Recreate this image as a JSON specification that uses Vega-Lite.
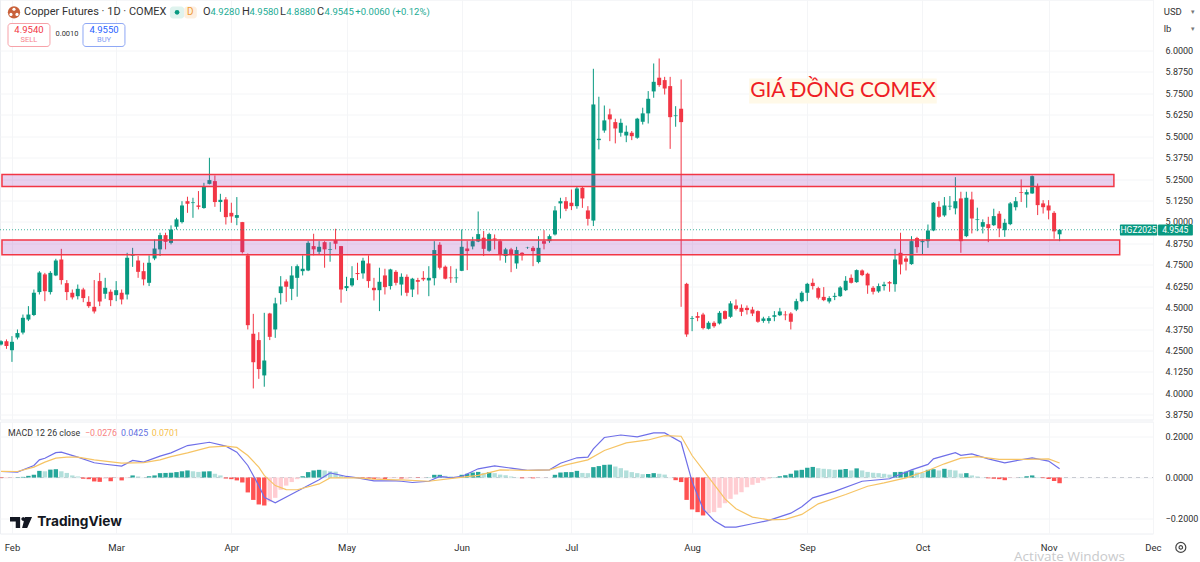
{
"$schema":"https://vega.github.io/schema/vega-lite/v6.json",
"padding":{"left":-2,"top":-1.5,"right":0,"bottom":0},
"background":"#ffffff",
"spacing":0,
"config":{"font":"Roboto","view":{"stroke":"#eceef2"},"concat":{"spacing":0},"axis":{"title":null,"domain":false,"ticks":false,"gridColor":"#f4f5f7","labelColor":"#2e2e2e","labelFontSize":10}},
"datasets":{
"bars":[
{"i":0,"o":4.286,"h":4.31,"l":4.28,"c":4.305,"hist":-0.003},
{"i":1,"o":4.305,"h":4.315,"l":4.26,"c":4.276,"hist":-0.003},
{"i":2,"o":4.252,"h":4.334,"l":4.184,"c":4.301,"hist":-0.002},
{"i":3,"o":4.326,"h":4.373,"l":4.315,"c":4.352,"hist":0.001},
{"i":4,"o":4.355,"h":4.46,"l":4.344,"c":4.441,"hist":0.003},
{"i":5,"o":4.431,"h":4.509,"l":4.422,"c":4.46,"hist":0.008},
{"i":6,"o":4.457,"h":4.606,"l":4.451,"c":4.587,"hist":0.013},
{"i":7,"o":4.591,"h":4.713,"l":4.577,"c":4.705,"hist":0.032},
{"i":8,"o":4.694,"h":4.703,"l":4.538,"c":4.596,"hist":0.03},
{"i":9,"o":4.591,"h":4.713,"l":4.577,"c":4.703,"hist":0.038},
{"i":10,"o":4.688,"h":4.785,"l":4.684,"c":4.775,"hist":0.04},
{"i":11,"o":4.781,"h":4.843,"l":4.635,"c":4.661,"hist":0.03},
{"i":12,"o":4.643,"h":4.661,"l":4.544,"c":4.591,"hist":0.022},
{"i":13,"o":4.587,"h":4.606,"l":4.548,"c":4.56,"hist":0.01},
{"i":14,"o":4.567,"h":4.635,"l":4.548,"c":4.61,"hist":0.005},
{"i":15,"o":4.606,"h":4.616,"l":4.532,"c":4.556,"hist":-0.006},
{"i":16,"o":4.534,"h":4.567,"l":4.499,"c":4.509,"hist":-0.008},
{"i":17,"o":4.505,"h":4.661,"l":4.466,"c":4.478,"hist":-0.019},
{"i":18,"o":4.655,"h":4.703,"l":4.509,"c":4.536,"hist":-0.021},
{"i":19,"o":4.581,"h":4.674,"l":4.552,"c":4.616,"hist":-0.005},
{"i":20,"o":4.593,"h":4.606,"l":4.509,"c":4.544,"hist":-0.018},
{"i":21,"o":4.573,"h":4.655,"l":4.538,"c":4.602,"hist":-0.002},
{"i":22,"o":4.587,"h":4.606,"l":4.519,"c":4.548,"hist":-0.014},
{"i":23,"o":4.577,"h":4.82,"l":4.548,"c":4.791,"hist":-0.002},
{"i":24,"o":4.803,"h":4.849,"l":4.738,"c":4.807,"hist":0.01},
{"i":25,"o":4.775,"h":4.801,"l":4.674,"c":4.709,"hist":0.005},
{"i":26,"o":4.713,"h":4.762,"l":4.63,"c":4.665,"hist":0.001},
{"i":27,"o":4.645,"h":4.805,"l":4.626,"c":4.762,"hist":0.006},
{"i":28,"o":4.787,"h":4.898,"l":4.777,"c":4.845,"hist":0.01},
{"i":29,"o":4.84,"h":4.937,"l":4.801,"c":4.923,"hist":0.021},
{"i":30,"o":4.923,"h":4.937,"l":4.84,"c":4.884,"hist":0.022},
{"i":31,"o":4.878,"h":4.98,"l":4.869,"c":4.956,"hist":0.023},
{"i":32,"o":4.972,"h":5.024,"l":4.956,"c":5.015,"hist":0.026},
{"i":33,"o":4.999,"h":5.121,"l":4.991,"c":5.096,"hist":0.03},
{"i":34,"o":5.121,"h":5.147,"l":5.053,"c":5.106,"hist":0.034},
{"i":35,"o":5.11,"h":5.141,"l":5.024,"c":5.114,"hist":0.03},
{"i":36,"o":5.096,"h":5.18,"l":5.073,"c":5.088,"hist":0.027},
{"i":37,"o":5.081,"h":5.228,"l":5.077,"c":5.209,"hist":0.029},
{"i":38,"o":5.222,"h":5.374,"l":5.219,"c":5.244,"hist":0.03},
{"i":39,"o":5.238,"h":5.271,"l":5.088,"c":5.116,"hist":0.018},
{"i":40,"o":5.116,"h":5.164,"l":5.059,"c":5.129,"hist":0.01},
{"i":41,"o":5.131,"h":5.145,"l":4.985,"c":5.028,"hist":-0.005},
{"i":42,"o":5.053,"h":5.112,"l":4.995,"c":5.032,"hist":-0.008},
{"i":43,"o":5.024,"h":5.145,"l":4.981,"c":5.04,"hist":-0.014},
{"i":44,"o":4.999,"h":5,"l":4.816,"c":4.824,"hist":-0.024},
{"i":45,"o":4.805,"h":4.816,"l":4.373,"c":4.398,"hist":-0.072},
{"i":46,"o":4.348,"h":4.464,"l":4.029,"c":4.182,"hist":-0.108},
{"i":47,"o":4.311,"h":4.357,"l":4.085,"c":4.142,"hist":-0.13},
{"i":48,"o":4.105,"h":4.47,"l":4.039,"c":4.192,"hist":-0.135},
{"i":49,"o":4.466,"h":4.47,"l":4.311,"c":4.33,"hist":-0.116},
{"i":50,"o":4.373,"h":4.558,"l":4.324,"c":4.525,"hist":-0.098},
{"i":51,"o":4.585,"h":4.684,"l":4.519,"c":4.624,"hist":-0.059},
{"i":52,"o":4.653,"h":4.665,"l":4.534,"c":4.622,"hist":-0.039},
{"i":53,"o":4.61,"h":4.742,"l":4.544,"c":4.688,"hist":-0.022},
{"i":54,"o":4.674,"h":4.752,"l":4.564,"c":4.742,"hist":-0.008},
{"i":55,"o":4.713,"h":4.805,"l":4.688,"c":4.727,"hist":0.006},
{"i":56,"o":4.717,"h":4.888,"l":4.713,"c":4.878,"hist":0.026},
{"i":57,"o":4.859,"h":4.931,"l":4.805,"c":4.84,"hist":0.034},
{"i":58,"o":4.826,"h":4.888,"l":4.81,"c":4.855,"hist":0.037},
{"i":59,"o":4.882,"h":4.888,"l":4.733,"c":4.84,"hist":0.034},
{"i":60,"o":4.838,"h":4.882,"l":4.768,"c":4.842,"hist":0.03},
{"i":61,"o":4.894,"h":4.96,"l":4.84,"c":4.873,"hist":0.028},
{"i":62,"o":4.859,"h":4.86,"l":4.529,"c":4.606,"hist":0.01},
{"i":63,"o":4.614,"h":4.68,"l":4.597,"c":4.626,"hist":0.005},
{"i":64,"o":4.63,"h":4.742,"l":4.622,"c":4.672,"hist":0.001},
{"i":65,"o":4.702,"h":4.762,"l":4.661,"c":4.696,"hist":-0.002},
{"i":66,"o":4.7,"h":4.791,"l":4.669,"c":4.774,"hist":-0.003},
{"i":67,"o":4.758,"h":4.805,"l":4.616,"c":4.655,"hist":-0.006},
{"i":68,"o":4.616,"h":4.674,"l":4.542,"c":4.602,"hist":-0.008},
{"i":69,"o":4.602,"h":4.733,"l":4.48,"c":4.651,"hist":-0.007},
{"i":70,"o":4.688,"h":4.727,"l":4.577,"c":4.62,"hist":-0.009},
{"i":71,"o":4.626,"h":4.727,"l":4.606,"c":4.723,"hist":-0.003},
{"i":72,"o":4.709,"h":4.719,"l":4.63,"c":4.645,"hist":-0.002},
{"i":73,"o":4.635,"h":4.7,"l":4.571,"c":4.68,"hist":-0.005},
{"i":74,"o":4.68,"h":4.694,"l":4.567,"c":4.587,"hist":-0.005},
{"i":75,"o":4.606,"h":4.674,"l":4.562,"c":4.669,"hist":-0.001},
{"i":76,"o":4.661,"h":4.674,"l":4.577,"c":4.651,"hist":-0.002},
{"i":77,"o":4.674,"h":4.713,"l":4.655,"c":4.665,"hist":-0.001},
{"i":78,"o":4.659,"h":4.742,"l":4.567,"c":4.674,"hist":0.001},
{"i":79,"o":4.672,"h":4.888,"l":4.63,"c":4.836,"hist":0.013},
{"i":80,"o":4.867,"h":4.882,"l":4.723,"c":4.733,"hist":0.013},
{"i":81,"o":4.739,"h":4.746,"l":4.665,"c":4.669,"hist":0.008},
{"i":82,"o":4.676,"h":4.742,"l":4.645,"c":4.672,"hist":0.005},
{"i":83,"o":4.672,"h":4.727,"l":4.645,"c":4.676,"hist":0.002},
{"i":84,"o":4.715,"h":4.956,"l":4.713,"c":4.855,"hist":0.013},
{"i":85,"o":4.845,"h":4.888,"l":4.719,"c":4.83,"hist":0.018},
{"i":86,"o":4.857,"h":4.913,"l":4.84,"c":4.888,"hist":0.024},
{"i":87,"o":4.886,"h":5.061,"l":4.882,"c":4.929,"hist":0.027},
{"i":88,"o":4.908,"h":4.947,"l":4.801,"c":4.843,"hist":0.022},
{"i":89,"o":4.832,"h":4.937,"l":4.826,"c":4.929,"hist":0.026},
{"i":90,"o":4.904,"h":4.927,"l":4.84,"c":4.898,"hist":0.021},
{"i":91,"o":4.888,"h":4.898,"l":4.775,"c":4.81,"hist":0.014},
{"i":92,"o":4.801,"h":4.849,"l":4.762,"c":4.84,"hist":0.011},
{"i":93,"o":4.84,"h":4.849,"l":4.707,"c":4.807,"hist":0.005},
{"i":94,"o":4.758,"h":4.855,"l":4.727,"c":4.836,"hist":0.001},
{"i":95,"o":4.82,"h":4.824,"l":4.775,"c":4.805,"hist":-0.004},
{"i":96,"o":4.849,"h":4.855,"l":4.843,"c":4.851,"hist":-0.002},
{"i":97,"o":4.849,"h":4.859,"l":4.742,"c":4.83,"hist":-0.004},
{"i":98,"o":4.766,"h":4.917,"l":4.758,"c":4.849,"hist":-0.001},
{"i":99,"o":4.888,"h":4.952,"l":4.84,"c":4.873,"hist":-0.001},
{"i":100,"o":4.888,"h":4.927,"l":4.878,"c":4.917,"hist":0},
{"i":101,"o":4.927,"h":5.092,"l":4.921,"c":5.067,"hist":0.013},
{"i":102,"o":5.108,"h":5.141,"l":5.02,"c":5.121,"hist":0.024},
{"i":103,"o":5.121,"h":5.145,"l":5.063,"c":5.077,"hist":0.026},
{"i":104,"o":5.112,"h":5.189,"l":5.069,"c":5.092,"hist":0.026},
{"i":105,"o":5.092,"h":5.209,"l":5.077,"c":5.195,"hist":0.032},
{"i":106,"o":5.199,"h":5.209,"l":5.082,"c":5.137,"hist":0.022},
{"i":107,"o":5.067,"h":5.092,"l":4.979,"c":5.018,"hist":0.021},
{"i":108,"o":5.008,"h":5.893,"l":4.976,"c":5.685,"hist":0.05},
{"i":109,"o":5.477,"h":5.73,"l":5.423,"c":5.485,"hist":0.055},
{"i":110,"o":5.533,"h":5.679,"l":5.52,"c":5.592,"hist":0.061},
{"i":111,"o":5.627,"h":5.66,"l":5.471,"c":5.598,"hist":0.062},
{"i":112,"o":5.582,"h":5.602,"l":5.458,"c":5.545,"hist":0.053},
{"i":113,"o":5.52,"h":5.602,"l":5.497,"c":5.578,"hist":0.045},
{"i":114,"o":5.504,"h":5.562,"l":5.465,"c":5.526,"hist":0.034},
{"i":115,"o":5.52,"h":5.53,"l":5.477,"c":5.5,"hist":0.026},
{"i":116,"o":5.491,"h":5.607,"l":5.485,"c":5.602,"hist":0.021},
{"i":117,"o":5.584,"h":5.666,"l":5.568,"c":5.633,"hist":0.016},
{"i":118,"o":5.633,"h":5.763,"l":5.574,"c":5.718,"hist":0.017},
{"i":119,"o":5.761,"h":5.924,"l":5.724,"c":5.817,"hist":0.021},
{"i":120,"o":5.841,"h":5.953,"l":5.788,"c":5.798,"hist":0.018},
{"i":121,"o":5.827,"h":5.846,"l":5.743,"c":5.778,"hist":0.014},
{"i":122,"o":5.792,"h":5.846,"l":5.426,"c":5.611,"hist":0.001},
{"i":123,"o":5.617,"h":5.675,"l":5.555,"c":5.621,"hist":-0.013},
{"i":124,"o":5.66,"h":5.831,"l":4.505,"c":5.582,"hist":-0.022},
{"i":125,"o":4.639,"h":4.645,"l":4.33,"c":4.344,"hist":-0.108},
{"i":126,"o":4.435,"h":4.451,"l":4.363,"c":4.439,"hist":-0.154},
{"i":127,"o":4.451,"h":4.474,"l":4.421,"c":4.441,"hist":-0.167},
{"i":128,"o":4.46,"h":4.47,"l":4.373,"c":4.381,"hist":-0.183},
{"i":129,"o":4.377,"h":4.421,"l":4.373,"c":4.412,"hist":-0.172},
{"i":130,"o":4.412,"h":4.421,"l":4.383,"c":4.392,"hist":-0.167},
{"i":131,"o":4.408,"h":4.48,"l":4.402,"c":4.47,"hist":-0.146},
{"i":132,"o":4.48,"h":4.484,"l":4.431,"c":4.435,"hist":-0.124},
{"i":133,"o":4.447,"h":4.538,"l":4.441,"c":4.525,"hist":-0.103},
{"i":134,"o":4.513,"h":4.548,"l":4.484,"c":4.493,"hist":-0.082},
{"i":135,"o":4.499,"h":4.519,"l":4.451,"c":4.476,"hist":-0.071},
{"i":136,"o":4.499,"h":4.513,"l":4.46,"c":4.486,"hist":-0.047},
{"i":137,"o":4.489,"h":4.505,"l":4.451,"c":4.466,"hist":-0.035},
{"i":138,"o":4.48,"h":4.484,"l":4.412,"c":4.418,"hist":-0.026},
{"i":139,"o":4.423,"h":4.447,"l":4.412,"c":4.437,"hist":-0.014},
{"i":140,"o":4.423,"h":4.451,"l":4.408,"c":4.439,"hist":-0.005},
{"i":141,"o":4.447,"h":4.48,"l":4.421,"c":4.456,"hist":0.001},
{"i":142,"o":4.456,"h":4.499,"l":4.451,"c":4.478,"hist":0.006},
{"i":143,"o":4.46,"h":4.48,"l":4.427,"c":4.456,"hist":0.011},
{"i":144,"o":4.466,"h":4.474,"l":4.373,"c":4.418,"hist":0.018},
{"i":145,"o":4.489,"h":4.552,"l":4.48,"c":4.538,"hist":0.034},
{"i":146,"o":4.538,"h":4.596,"l":4.532,"c":4.587,"hist":0.037},
{"i":147,"o":4.587,"h":4.645,"l":4.538,"c":4.639,"hist":0.047},
{"i":148,"o":4.645,"h":4.67,"l":4.606,"c":4.626,"hist":0.051},
{"i":149,"o":4.614,"h":4.622,"l":4.548,"c":4.558,"hist":0.045},
{"i":150,"o":4.563,"h":4.62,"l":4.538,"c":4.544,"hist":0.042},
{"i":151,"o":4.536,"h":4.567,"l":4.525,"c":4.556,"hist":0.04},
{"i":152,"o":4.563,"h":4.587,"l":4.544,"c":4.569,"hist":0.037},
{"i":153,"o":4.567,"h":4.626,"l":4.563,"c":4.618,"hist":0.038},
{"i":154,"o":4.602,"h":4.684,"l":4.597,"c":4.657,"hist":0.041},
{"i":155,"o":4.674,"h":4.694,"l":4.641,"c":4.645,"hist":0.034},
{"i":156,"o":4.649,"h":4.723,"l":4.645,"c":4.719,"hist":0.044},
{"i":157,"o":4.717,"h":4.723,"l":4.684,"c":4.69,"hist":0.034},
{"i":158,"o":4.698,"h":4.704,"l":4.581,"c":4.63,"hist":0.027},
{"i":159,"o":4.616,"h":4.626,"l":4.577,"c":4.593,"hist":0.023},
{"i":160,"o":4.595,"h":4.641,"l":4.587,"c":4.626,"hist":0.021},
{"i":161,"o":4.626,"h":4.651,"l":4.6,"c":4.635,"hist":0.018},
{"i":162,"o":4.649,"h":4.655,"l":4.593,"c":4.641,"hist":0.014},
{"i":163,"o":4.637,"h":4.843,"l":4.593,"c":4.781,"hist":0.026},
{"i":164,"o":4.82,"h":4.937,"l":4.694,"c":4.752,"hist":0.027},
{"i":165,"o":4.787,"h":4.801,"l":4.717,"c":4.768,"hist":0.028},
{"i":166,"o":4.754,"h":4.917,"l":4.75,"c":4.888,"hist":0.034},
{"i":167,"o":4.906,"h":4.913,"l":4.82,"c":4.853,"hist":0.024},
{"i":168,"o":4.882,"h":4.898,"l":4.81,"c":4.888,"hist":0.022},
{"i":169,"o":4.888,"h":4.985,"l":4.849,"c":4.95,"hist":0.037},
{"i":170,"o":4.95,"h":5.116,"l":4.946,"c":5.112,"hist":0.04},
{"i":171,"o":5.088,"h":5.121,"l":5.024,"c":5.03,"hist":0.034},
{"i":172,"o":5.038,"h":5.145,"l":5.03,"c":5.096,"hist":0.042},
{"i":173,"o":5.09,"h":5.151,"l":5.069,"c":5.094,"hist":0.037},
{"i":174,"o":5.079,"h":5.261,"l":5.044,"c":5.121,"hist":0.034},
{"i":175,"o":5.137,"h":5.176,"l":4.82,"c":4.888,"hist":0.019},
{"i":176,"o":4.917,"h":5.176,"l":4.911,"c":5.141,"hist":0.021},
{"i":177,"o":5.131,"h":5.176,"l":4.933,"c":5.02,"hist":0.01},
{"i":178,"o":5.011,"h":5.083,"l":4.946,"c":5.015,"hist":0.005},
{"i":179,"o":4.972,"h":5.015,"l":4.933,"c":4.999,"hist":0.001},
{"i":180,"o":4.987,"h":5.03,"l":4.882,"c":4.964,"hist":-0.004},
{"i":181,"o":4.981,"h":5.077,"l":4.976,"c":5.034,"hist":-0.006},
{"i":182,"o":5.048,"h":5.063,"l":4.911,"c":4.962,"hist":-0.008},
{"i":183,"o":4.952,"h":5.018,"l":4.913,"c":4.995,"hist":-0.013},
{"i":184,"o":4.987,"h":5.116,"l":4.981,"c":5.108,"hist":-0.002},
{"i":185,"o":5.086,"h":5.145,"l":5.067,"c":5.121,"hist":-0.001},
{"i":186,"o":5.174,"h":5.248,"l":5.116,"c":5.17,"hist":0.001},
{"i":187,"o":5.16,"h":5.189,"l":5.083,"c":5.174,"hist":0.006},
{"i":188,"o":5.166,"h":5.271,"l":5.164,"c":5.267,"hist":0.01},
{"i":189,"o":5.209,"h":5.224,"l":5.04,"c":5.098,"hist":0.002},
{"i":190,"o":5.108,"h":5.127,"l":5.049,"c":5.086,"hist":-0.003},
{"i":191,"o":5.096,"h":5.127,"l":5.015,"c":5.067,"hist":-0.007},
{"i":192,"o":5.053,"h":5.063,"l":4.902,"c":4.945,"hist":-0.017},
{"i":193,"o":4.928,"h":4.958,"l":4.888,"c":4.9545,"hist":-0.0276}
],
"macd":[{"i":0,"v":0.029},{"i":3,"v":0.026},{"i":6,"v":0.058},{"i":7,"v":0.085},{"i":8,"v":0.093},{"i":10,"v":0.12},{"i":11,"v":0.122},{"i":14,"v":0.098},{"i":17,"v":0.071},{"i":19,"v":0.064},{"i":22,"v":0.055},{"i":24,"v":0.082},{"i":26,"v":0.074},{"i":29,"v":0.103},{"i":31,"v":0.119},{"i":34,"v":0.154},{"i":38,"v":0.17},{"i":41,"v":0.151},{"i":43,"v":0.122},{"i":45,"v":0.058},{"i":47,"v":-0.039},{"i":48,"v":-0.095},{"i":50,"v":-0.122},{"i":54,"v":-0.066},{"i":58,"v":-0.011},{"i":60,"v":0.022},{"i":63,"v":0.005},{"i":65,"v":-0.002},{"i":68,"v":-0.016},{"i":72,"v":-0.016},{"i":73,"v":-0.018},{"i":75,"v":-0.024},{"i":78,"v":-0.018},{"i":80,"v":0.005},{"i":82,"v":-0.002},{"i":84,"v":0.005},{"i":87,"v":0.042},{"i":90,"v":0.056},{"i":93,"v":0.045},{"i":96,"v":0.034},{"i":100,"v":0.037},{"i":102,"v":0.069},{"i":105,"v":0.095},{"i":107,"v":0.098},{"i":108,"v":0.138},{"i":110,"v":0.193},{"i":113,"v":0.205},{"i":116,"v":0.196},{"i":119,"v":0.215},{"i":121,"v":0.215},{"i":124,"v":0.17},{"i":126,"v":-0.02},{"i":128,"v":-0.151},{"i":130,"v":-0.207},{"i":132,"v":-0.239},{"i":134,"v":-0.239},{"i":137,"v":-0.223},{"i":140,"v":-0.207},{"i":144,"v":-0.172},{"i":146,"v":-0.141},{"i":148,"v":-0.098},{"i":152,"v":-0.067},{"i":157,"v":-0.018},{"i":162,"v":-0.006},{"i":166,"v":0.037},{"i":169,"v":0.063},{"i":170,"v":0.09},{"i":174,"v":0.12},{"i":175,"v":0.107},{"i":177,"v":0.114},{"i":180,"v":0.09},{"i":183,"v":0.071},{"i":188,"v":0.095},{"i":191,"v":0.079},{"i":193,"v":0.0425}],
"signal":[{"i":0,"v":0.03},{"i":3,"v":0.029},{"i":6,"v":0.05},{"i":8,"v":0.074},{"i":10,"v":0.093},{"i":12,"v":0.098},{"i":14,"v":0.098},{"i":17,"v":0.085},{"i":22,"v":0.069},{"i":26,"v":0.072},{"i":29,"v":0.085},{"i":31,"v":0.101},{"i":34,"v":0.119},{"i":38,"v":0.146},{"i":41,"v":0.151},{"i":43,"v":0.145},{"i":45,"v":0.106},{"i":47,"v":0.05},{"i":48,"v":0.01},{"i":50,"v":-0.039},{"i":52,"v":-0.058},{"i":54,"v":-0.059},{"i":58,"v":-0.031},{"i":60,"v":-0.002},{"i":63,"v":-0.002},{"i":65,"v":-0.002},{"i":68,"v":-0.008},{"i":72,"v":-0.011},{"i":73,"v":-0.011},{"i":78,"v":-0.018},{"i":83,"v":-0.002},{"i":87,"v":0.01},{"i":91,"v":0.037},{"i":96,"v":0.034},{"i":100,"v":0.037},{"i":103,"v":0.061},{"i":107,"v":0.085},{"i":110,"v":0.13},{"i":114,"v":0.167},{"i":118,"v":0.181},{"i":121,"v":0.202},{"i":124,"v":0.199},{"i":126,"v":0.106},{"i":129,"v":0.002},{"i":132,"v":-0.103},{"i":134,"v":-0.151},{"i":137,"v":-0.191},{"i":140,"v":-0.204},{"i":143,"v":-0.202},{"i":146,"v":-0.178},{"i":149,"v":-0.127},{"i":154,"v":-0.082},{"i":158,"v":-0.042},{"i":161,"v":-0.026},{"i":165,"v":-0.002},{"i":169,"v":0.034},{"i":172,"v":0.066},{"i":175,"v":0.093},{"i":178,"v":0.101},{"i":182,"v":0.087},{"i":187,"v":0.087},{"i":191,"v":0.09},{"i":193,"v":0.0701}]
},
"vconcat":[
{
"width":1153,"height":420,
"encoding":{
"x":{"field":"i","type":"quantitative","scale":{"domain":[-0.18,210.03],"nice":false,"zero":false,"padding":0},"axis":{"values":[2,21,42,63,84,104,126,147,168,191,210],"labels":false,"grid":true}},
"y":{"field":"p","type":"quantitative","scale":{"domain":[3.848,6.297],"nice":false,"zero":false},"axis":{"orient":"right","values":[3.875,4,4.125,4.25,4.375,4.5,4.625,4.75,4.875,5,5.125,5.25,5.375,5.5,5.625,5.75,5.875,6],"format":".4f","labelPadding":12,"labelFontSize":9,"grid":true}}
},
"layer":[
{"data":{"name":"bars"},"mark":{"type":"rule","strokeWidth":1},"encoding":{"y":{"field":"l","type":"quantitative"},"y2":{"field":"h"},"color":{"condition":{"test":"datum.c>=datum.o","value":"#089981"},"value":"#f23645"}}},
{"data":{"name":"bars"},"mark":{"type":"bar","size":4,"orient":"vertical"},"encoding":{"y":{"field":"o","type":"quantitative"},"y2":{"field":"c"},"color":{"condition":{"test":"datum.c>=datum.o","value":"#089981"},"value":"#f23645"}}},
{"data":{"values":[{"i":0.18,"i2":202.9,"p":5.277,"p2":5.207},{"i":0.18,"i2":203.96,"p":4.894,"p2":4.809}]},"mark":{"type":"rect","fill":"#9c27b0","fillOpacity":0.22,"stroke":"#f23645","strokeWidth":1.5,"strokeOpacity":1},"encoding":{"x2":{"field":"i2"},"y2":{"field":"p2"}}},
{"data":{"values":[{"i":-0.18,"i2":210.03,"p":4.9545}]},"mark":{"type":"rule","stroke":"#089981","strokeDash":[1,2],"strokeWidth":1,"opacity":0.75},"encoding":{"x2":{"field":"i2"}}},
{"data":{"values":[{"i":204,"i2":210.8,"p":4.9854,"p2":4.9213},{"i":210.95,"i2":217.3,"p":4.9854,"p2":4.9213}]},"mark":{"type":"rect","fill":"#089981","cornerRadius":1},"encoding":{"x2":{"field":"i2"},"y2":{"field":"p2"}}},
{"data":{"values":[{"i":207.4,"p":4.953,"t":"HGZ2025"},{"i":214.1,"p":4.953,"t":"4.9545"}]},"mark":{"type":"text","fill":"#ffffff","fontSize":8.5,"align":"center","baseline":"middle"},"encoding":{"text":{"field":"t"}}},
{"data":{"values":[{"i":136.4,"i2":170.6,"p":5.837,"p2":5.691}]},"mark":{"type":"rect","fill":"#fff9e8"},"encoding":{"x2":{"field":"i2"},"y2":{"field":"p2"}}},
{"data":{"values":[{"i":153.5,"p":5.764,"t":"GIÁ ĐỒNG COMEX"}]},"mark":{"type":"text","fill":"#ee1c25","fontSize":21,"font":"Lato","align":"center","baseline":"middle"},"encoding":{"text":{"field":"t"}}},
{"data":{"values":[{"i":2.37,"p":6.222}]},"mark":{"type":"point","shape":"circle","filled":true,"fill":"#c9613a","size":150,"opacity":1}},
{"data":{"values":[{"i":2.37,"p":6.24},{"i":1.82,"p":6.21},{"i":2.92,"p":6.21}]},"mark":{"type":"point","shape":"circle","filled":true,"fill":"#ffffff","size":10,"opacity":1}},
{"data":{"values":[{"i":4.19,"p":6.222,"t":"Copper Futures · 1D · COMEX"},{"i":36.83,"p":6.222,"t":"O"},{"i":43.94,"p":6.222,"t":"H"},{"i":50.87,"p":6.222,"t":"L"},{"i":57.6,"p":6.222,"t":"C"}]},"mark":{"type":"text","fill":"#333333","fontSize":11,"align":"left","baseline":"middle"},"encoding":{"text":{"field":"t"}}},
{"data":{"values":[{"i":38.2,"p":6.222,"t":"4.9280"},{"i":45.3,"p":6.222,"t":"4.9580"},{"i":52,"p":6.222,"t":"4.8880"},{"i":59,"p":6.222,"t":"4.9545"},{"i":64.6,"p":6.222,"t":"+0.0060 (+0.12%)"}]},"mark":{"type":"text","fill":"#22ab94","fontSize":9.5,"align":"left","baseline":"middle"},"encoding":{"text":{"field":"t"}}},
{"data":{"values":[{"i":30.8,"i2":33.4,"p":6.2566,"p2":6.1866}]},"mark":{"type":"rect","fill":"#dff3ee","cornerRadius":3},"encoding":{"x2":{"field":"i2"},"y2":{"field":"p2"}}},
{"data":{"values":[{"i":33.4,"i2":35.7,"p":6.2566,"p2":6.1866}]},"mark":{"type":"rect","fill":"#fdefdf","cornerRadius":3},"encoding":{"x2":{"field":"i2"},"y2":{"field":"p2"}}},
{"data":{"values":[{"i":32.1,"p":6.222}]},"mark":{"type":"point","shape":"circle","filled":true,"fill":"#089981","size":22,"opacity":1}},
{"data":{"values":[{"i":34.5,"p":6.222,"t":"D"}]},"mark":{"type":"text","fill":"#f09a37","fontSize":10,"align":"center","baseline":"middle"},"encoding":{"text":{"field":"t"}}},
{"data":{"values":[{"i":1.28,"i2":8.93,"p":6.157,"p2":6.023}]},"mark":{"type":"rect","fill":"#ffffff","stroke":"#f7a1a8","strokeWidth":1,"cornerRadius":3},"encoding":{"x2":{"field":"i2"},"y2":{"field":"p2"}}},
{"data":{"values":[{"i":14.95,"i2":22.6,"p":6.157,"p2":6.023}]},"mark":{"type":"rect","fill":"#ffffff","stroke":"#8ea7f5","strokeWidth":1,"cornerRadius":3},"encoding":{"x2":{"field":"i2"},"y2":{"field":"p2"}}},
{"data":{"values":[{"i":5.1,"p":6.122,"t":"4.9540"}]},"mark":{"type":"text","fill":"#f23645","fontSize":9.5,"align":"center","baseline":"middle"},"encoding":{"text":{"field":"t"}}},
{"data":{"values":[{"i":5.1,"p":6.061,"t":"SELL"}]},"mark":{"type":"text","fill":"#f7848d","fontSize":7.5,"align":"center","baseline":"middle"},"encoding":{"text":{"field":"t"}}},
{"data":{"values":[{"i":18.78,"p":6.122,"t":"4.9550"}]},"mark":{"type":"text","fill":"#2962ff","fontSize":9.5,"align":"center","baseline":"middle"},"encoding":{"text":{"field":"t"}}},
{"data":{"values":[{"i":18.78,"p":6.061,"t":"BUY"}]},"mark":{"type":"text","fill":"#7f9cf5","fontSize":7.5,"align":"center","baseline":"middle"},"encoding":{"text":{"field":"t"}}},
{"data":{"values":[{"i":12.03,"p":6.093,"t":"0.0010"}]},"mark":{"type":"text","fill":"#333333","fontSize":7.5,"align":"center","baseline":"middle"},"encoding":{"text":{"field":"t"}}},
{"data":{"values":[{"i":212,"p":6.222,"t":"USD"},{"i":212,"p":6.1224,"t":"lb"}]},"mark":{"type":"text","fill":"#333333","fontSize":9.5,"align":"left","baseline":"middle"},"encoding":{"text":{"field":"t"}}},
{"data":{"values":[{"i":217.4,"p":6.222,"t":"▾"},{"i":217.4,"p":6.1224,"t":"▾"}]},"mark":{"type":"text","fill":"#777777","fontSize":7,"align":"center","baseline":"middle"},"encoding":{"text":{"field":"t"}}}
]
},
{
"width":1153,"height":112,
"encoding":{
"x":{"field":"i","type":"quantitative","scale":{"domain":[-0.18,210.03],"nice":false,"zero":false,"padding":0},"axis":{"values":[2,21,42,63,84,104,126,147,168,191,210],"labelExpr":"{'2':'Feb','21':'Mar','42':'Apr','63':'May','84':'Jun','104':'Jul','126':'Aug','147':'Sep','168':'Oct','191':'Nov','210':'Dec'}[datum.value]","labelPadding":9,"labelFontSize":9.5,"labelOverlap":false,"labelBound":false,"labelFlush":false,"grid":true}},
"y":{"field":"v","type":"quantitative","scale":{"domain":[-0.27,0.27],"nice":false,"zero":false},"axis":{"orient":"right","values":[-0.2,0,0.2],"format":".4f","labelPadding":12,"labelFontSize":9,"grid":true}}
},
"layer":[
{"data":{"values":[{"i":-0.18,"i2":210.03,"v":0}]},"mark":{"type":"rule","stroke":"#c8cbd2","strokeDash":[4,4],"strokeWidth":1},"encoding":{"x2":{"field":"i2"}}},
{"data":{"name":"bars"},"transform":[{"window":[{"op":"lag","field":"hist","as":"prev"}],"sort":[{"field":"i"}]}],"mark":{"type":"bar","size":4.4,"orient":"vertical"},"encoding":{"y":{"field":"hist","type":"quantitative"},"y2":{"datum":0},"color":{"condition":[{"test":"datum.hist>=0 && datum.hist>=datum.prev","value":"#26a69a"},{"test":"datum.hist>=0","value":"#b2dfdb"},{"test":"datum.hist<datum.prev","value":"#ff5252"}],"value":"#ffcdd2"}}},
{"data":{"name":"macd"},"mark":{"type":"line","stroke":"#6f6fe8","strokeWidth":1.2}},
{"data":{"name":"signal"},"mark":{"type":"line","stroke":"#f6c465","strokeWidth":1.2}},
{"data":{"values":[{"i":1.28,"v":0.2145,"t":"MACD 12 26 close"}]},"mark":{"type":"text","fill":"#333333","fontSize":8.8,"align":"left","baseline":"middle"},"encoding":{"text":{"field":"t"}}},
{"data":{"values":[{"i":15.3,"v":0.2145,"t":"−0.0276"}]},"mark":{"type":"text","fill":"#f7827f","fontSize":8.8,"align":"left","baseline":"middle"},"encoding":{"text":{"field":"t"}}},
{"data":{"values":[{"i":21.9,"v":0.2145,"t":"0.0425"}]},"mark":{"type":"text","fill":"#5f6fe0","fontSize":8.8,"align":"left","baseline":"middle"},"encoding":{"text":{"field":"t"}}},
{"data":{"values":[{"i":27.5,"v":0.2145,"t":"0.0701"}]},"mark":{"type":"text","fill":"#f5c04e","fontSize":8.8,"align":"left","baseline":"middle"},"encoding":{"text":{"field":"t"}}},
{"data":{"values":[{"i":3.65,"v":-0.2169}]},"mark":{"type":"point","filled":true,"fill":"#131722","opacity":1,"size":1936,"shape":"M-.5,-.25L-.04,-.25L-.04,.25L-.24,.25L-.24,-.05L-.5,-.05ZM.18,-.25L.5,-.25L.28,.25L.05,.25ZM.02,-.2L.1,-.25L.18,-.2L.18,-.12L.1,-.06L.02,-.12Z"}},
{"data":{"values":[{"i":6.6,"v":-0.2169,"t":"TradingView"}]},"mark":{"type":"text","fill":"#131722","fontSize":13.7,"fontWeight":"bold","font":"Inter","align":"left","baseline":"middle"},"encoding":{"text":{"field":"t"}}},
{"data":{"values":[{"i":215.1,"v":-0.337}]},"mark":{"type":"point","shape":"circle","filled":false,"stroke":"#444444","strokeWidth":1.2,"size":100,"opacity":1}},
{"data":{"values":[{"i":215.1,"v":-0.337}]},"mark":{"type":"point","shape":"circle","filled":false,"stroke":"#444444","strokeWidth":1.2,"size":12,"opacity":1}},
{"data":{"values":[{"i":184.7,"v":-0.381,"t":"Activate Windows"}]},"mark":{"type":"text","fill":"#c9cacc","fontSize":13.5,"font":"Open Sans","align":"left","baseline":"middle"},"encoding":{"text":{"field":"t"}}}
]
}
]
}
